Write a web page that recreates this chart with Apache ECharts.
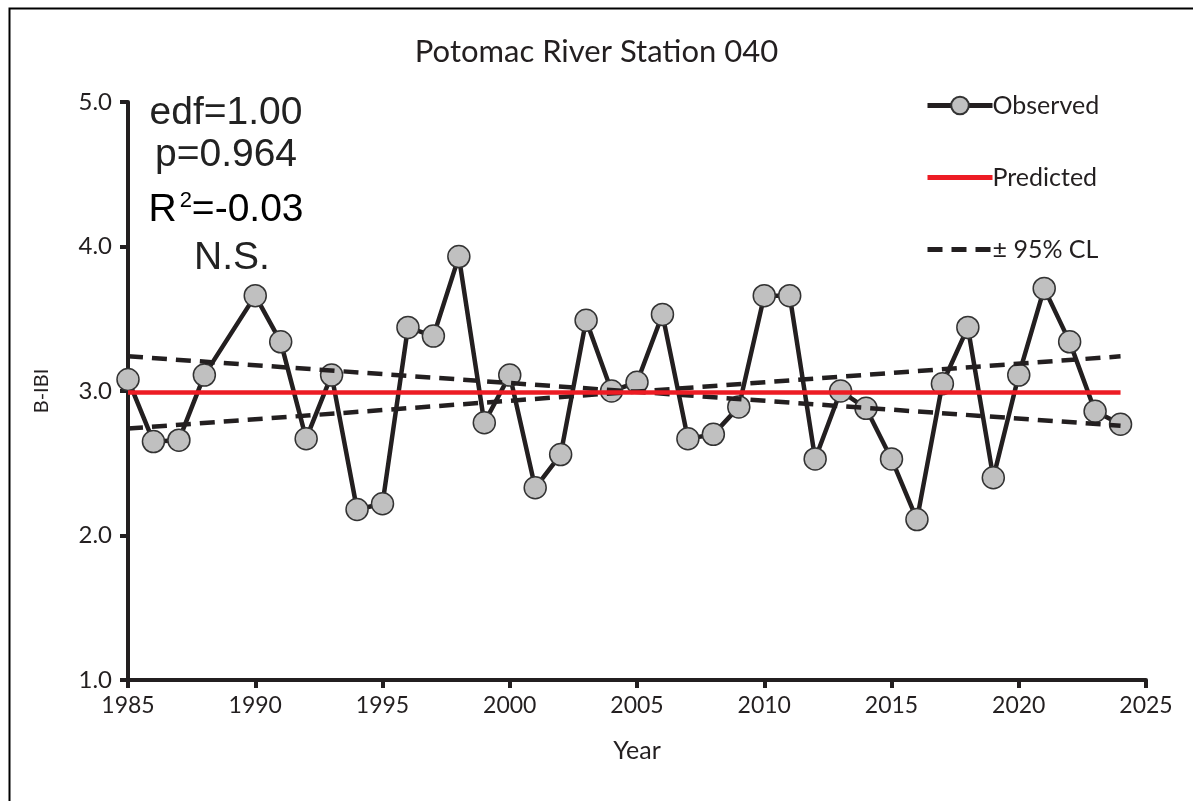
<!DOCTYPE html>
<html>
<head>
<meta charset="utf-8">
<script src="https://cdn.jsdelivr.net/npm/echarts@6/dist/echarts.min.js"></script>
<style>html,body{margin:0;padding:0;background:#fff;}#c{width:1193px;height:801px;}</style>
</head>
<body>
<div id="c"></div>
<script>
const years = [1985,1986,1987,1988,1990,1991,1992,1993,1994,1995,1996,1997,1998,1999,2000,2001,2002,2003,2004,2005,2006,2007,2008,2009,2010,2011,2012,2013,2014,2015,2016,2017,2018,2019,2020,2021,2022,2023,2024];
const observed = [3.08,2.65,2.66,3.11,3.66,3.34,2.67,3.11,2.18,2.22,3.44,3.38,3.93,2.78,3.11,2.33,2.56,3.49,3.00,3.06,3.53,2.67,2.70,2.89,3.66,3.66,2.53,3.00,2.88,2.53,2.11,3.05,3.44,2.40,3.11,3.71,3.34,2.86,2.77];
const predYears = [1985, 2024];
const predicted = [2.99, 2.99];
const upperCL = [3.24, 2.76];
const lowerCL = [2.74, 3.24];
const xTicks = [1985,1990,1995,2000,2005,2010,2015,2020,2025];
const yTicks = [1.0,2.0,3.0,4.0,5.0];

const chart = echarts.init(document.getElementById('c'));
const dark = '#231f20';
const labelFont = 'Lato';
chart.setOption({
  animation: false,
  backgroundColor: '#fff',
  title: {
    text: 'Potomac River Station 040',
    left: 'center', top: 31,
    textStyle: {fontFamily: labelFont, fontWeight: 'normal', fontSize: 31, color: dark}
  },
  legend: {
    orient: 'vertical', left: 920, top: 88,
    itemWidth: 65, itemHeight: 22, itemGap: 47,
    textStyle: {fontFamily: labelFont, fontSize: 25, color: dark, padding: [0, 0, 0, -5]},
    lineStyle: {width: 5},
    data: [
      {name: 'Observed'},
      {name: 'Predicted', itemStyle: {opacity: 0}},
      {name: '± 95% CL', itemStyle: {opacity: 0}}
    ]
  },
  grid: {left: 128, right: 47, top: 102, bottom: 121},
  xAxis: {
    type: 'value', min: 1985, max: 2025, interval: 5,
    name: 'Year', nameLocation: 'middle', nameGap: 58,
    nameTextStyle: {fontFamily: labelFont, fontSize: 25, color: dark},
    axisLine: {show: true, lineStyle: {color: dark, width: 4}},
    axisTick: {show: true, length: 8, lineStyle: {color: dark, width: 4}},
    axisLabel: {fontFamily: labelFont, fontSize: 23, color: dark, margin: 14,
      formatter: v => xTicks.includes(v) ? String(v) : ''},
    splitLine: {show: false}
  },
  yAxis: {
    type: 'value', min: 1, max: 5, interval: 1,
    name: 'B-IBI', nameLocation: 'middle', nameGap: 76, nameRotate: 90,
    nameTextStyle: {fontFamily: labelFont, fontSize: 20, color: dark},
    axisLine: {show: true, lineStyle: {color: dark, width: 4}},
    axisTick: {show: true, length: 8, lineStyle: {color: dark, width: 4}},
    axisLabel: {fontFamily: labelFont, fontSize: 24, color: dark, margin: 16,
      formatter: v => yTicks.includes(v) ? v.toFixed(1) : ''},
    splitLine: {show: false}
  },
  series: [
    {
      name: 'Observed', type: 'line', z: 2,
      data: years.map((y, i) => [y, observed[i]]),
      symbol: 'circle', symbolSize: 22, showAllSymbol: true,
      lineStyle: {color: dark, width: 4.5},
      itemStyle: {color: '#c0c0c0', borderColor: '#333', borderWidth: 1.5}
    },
    {
      name: '± 95% CL', type: 'line', z: 3, symbol: 'none',
      data: predYears.map((y, i) => [y, upperCL[i]]),
      lineStyle: {color: dark, width: 4.5, type: [15, 9]},
      itemStyle: {color: dark}
    },
    {
      name: '± 95% CL', type: 'line', z: 3, symbol: 'none',
      data: predYears.map((y, i) => [y, lowerCL[i]]),
      lineStyle: {color: dark, width: 4.5, type: [15, 9]},
      itemStyle: {color: dark}
    },
    {
      name: 'Predicted', type: 'line', z: 4, symbol: 'none',
      data: predYears.map((y, i) => [y, predicted[i]]),
      lineStyle: {color: '#ed1c24', width: 4.5},
      itemStyle: {color: '#ed1c24'}
    }
  ],
  graphic: [
    {type: 'rect', left: 7, top: 6, shape: {width: 1400, height: 1000}, style: {fill: 'none', stroke: '#000', lineWidth: 2}, silent: true},
    {type: 'text', x: 226, y: 113, style: {text: 'edf=1.00', font: '39px "Liberation Sans"', fill: '#222', align: 'center', verticalAlign: 'middle'}},
    {type: 'text', x: 226, y: 155, style: {text: 'p=0.964', font: '39px "Liberation Sans"', fill: '#222', align: 'center', verticalAlign: 'middle'}},
    {type: 'text', x: 226, y: 210, style: {
      text: '{b|R}{s|2}{b|=-0.03}', align: 'center', verticalAlign: 'middle',
      rich: {
        b: {fontFamily: 'Liberation Sans', fontSize: 39, color: '#222', verticalAlign: 'bottom'},
        s: {fontFamily: 'Liberation Sans', fontSize: 22, color: '#222', verticalAlign: 'top', padding: [0, 0, 18, 3]}
      }}},
    {type: 'text', x: 232, y: 258, style: {text: 'N.S.', font: '39px "Liberation Sans"', fill: '#222', align: 'center', verticalAlign: 'middle'}}
  ]
});
</script>
</body>
</html>
